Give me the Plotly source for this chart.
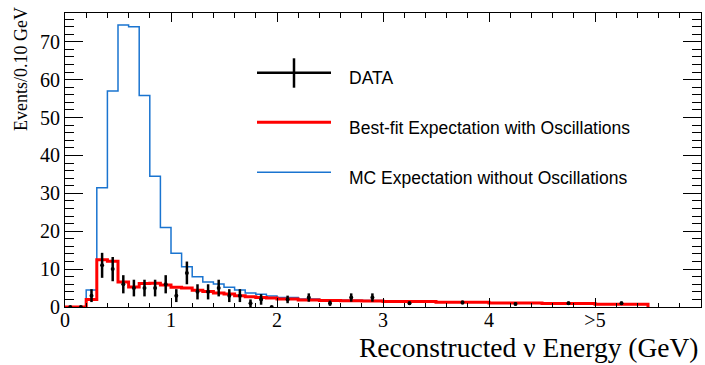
import plotly.graph_objects as go

# ---- data ----
bin_edges = [0.0, 0.1, 0.2, 0.3, 0.4, 0.5, 0.6, 0.7, 0.8, 0.9, 1.0,
             1.1, 1.2, 1.3, 1.4, 1.5, 1.6, 1.7, 1.8, 1.9, 2.0,
             2.2, 2.4, 2.6, 2.8, 3.0, 3.5, 4.0, 4.5, 5.0, 5.5]

mc_no_osc = [0, 0, 4.5, 31.5, 57.0, 74.4, 74.0, 55.8, 34.5, 21.0,
             14.2, 10.6, 8.0, 6.6, 6.1, 5.2, 4.5, 3.7, 3.35, 2.9,
             2.5, 2.1, 1.8, 1.75, 1.7, 1.5, 1.25, 1.05, 0.9, 0.75]

best_fit = [0, 0, 2.0, 12.5, 12.1, 6.6, 5.3, 6.2, 6.3, 5.8,
            5.2, 5.0, 4.4, 4.1, 3.7, 3.4, 3.0, 2.7, 2.5, 2.4,
            2.1, 1.85, 1.7, 1.65, 1.6, 1.45, 1.25, 1.05, 0.9, 0.7]

data_vals = [0, 0, 3, 11, 10, 6, 5, 5, 5, 6,
             3, 9, 4, 4, 5, 3, 3, 1, 2, 0,
             2, 2.5, 1, 2.5, 2.5, 1.0, 1.2, 0.8, 1.0, 1.0]

data_errs = [0, 0, 1.7, 3.3, 3.2, 2.4, 2.2, 2.2, 2.2, 2.4,
             1.7, 3.0, 2.0, 2.0, 2.2, 1.7, 1.7, 1.0, 1.4, 0,
             1.0, 1.1, 0.7, 1.1, 1.1, 0.45, 0.5, 0.4, 0.45, 0.45]

x_tickvals = [0, 1, 2, 3, 4, 5]
x_ticktext = ["0", "1", "2", "3", "4", ">5"]

legend_labels = ["DATA", "Best-fit Expectation with Oscillations",
                 "MC Expectation without Oscillations"]

BLUE = "#1a74d0"
RED = "#ff0000"
SERIF = "Liberation Serif, Times New Roman, serif"
SANS = "Liberation Sans, Arial, sans-serif"

centers = [(bin_edges[i] + bin_edges[i + 1]) / 2 for i in range(len(bin_edges) - 1)]

fig = go.Figure()
fig.add_trace(go.Scatter(x=bin_edges, y=mc_no_osc + [0], mode="lines",
                         line=dict(shape="hv", color=BLUE, width=1.5),
                         showlegend=False, hoverinfo="skip"))
fig.add_trace(go.Scatter(x=bin_edges, y=best_fit + [0], mode="lines",
                         line=dict(shape="hv", color=RED, width=3),
                         showlegend=False, hoverinfo="skip"))
fig.add_trace(go.Scatter(x=centers, y=data_vals, mode="markers",
                         marker=dict(color="black", size=4),
                         error_y=dict(type="data", array=data_errs, color="black",
                                      thickness=2.5, width=0),
                         showlegend=False))

# plot area geometry (pixels) for legend placement
L, T, W, H = 65, 13, 636, 294


def px(x):
    return (x - L) / W


def py(y):
    return (T + H - y) / H


shapes = [
    dict(type="line", xref="paper", yref="paper", x0=px(257), x1=px(331), y0=py(72.7), y1=py(72.7),
         line=dict(color="black", width=2.5)),
    dict(type="line", xref="paper", yref="paper", x0=px(294), x1=px(294), y0=py(58.3), y1=py(87.7),
         line=dict(color="black", width=2.5)),
    dict(type="line", xref="paper", yref="paper", x0=px(257), x1=px(331), y0=py(122.3), y1=py(122.3),
         line=dict(color=RED, width=3)),
    dict(type="line", xref="paper", yref="paper", x0=px(257), x1=px(331), y0=py(172.3), y1=py(172.3),
         line=dict(color=BLUE, width=1.5)),
]

annotations = []
for lab, yc in zip(legend_labels, [78.3, 128.3, 178.3]):
    annotations.append(dict(text=lab, xref="paper", yref="paper", x=px(347), y=py(yc),
                            xanchor="left", yanchor="middle", showarrow=False,
                            font=dict(family=SANS, size=17.5, color="black")))

annotations.append(dict(text="Reconstructed \u03bd Energy (GeV)", xref="paper", yref="paper",
                        x=px(701), y=py(347), xanchor="right", yanchor="middle",
                        showarrow=False, font=dict(family=SERIF, size=27.5, color="black")))
annotations.append(dict(text="Events/0.10 GeV", xref="paper", yref="paper",
                        x=px(21), y=py(5), xanchor="center", yanchor="top", textangle=-90,
                        showarrow=False, font=dict(family=SERIF, size=18, color="black")))

fig.update_layout(
    width=705, height=365,
    margin=dict(l=L, r=705 - L - W, t=T, b=365 - T - H),
    paper_bgcolor="white", plot_bgcolor="white",
    shapes=shapes, annotations=annotations,
    xaxis=dict(range=[0, 6], showline=True, linecolor="black", linewidth=1, mirror="ticks",
               ticks="inside", ticklen=9, tickwidth=1, tickcolor="black",
               tickmode="array", tickvals=x_tickvals, ticktext=x_ticktext,
               tickfont=dict(family=SERIF, size=20, color="black"), ticklabelstandoff=-5,
               minor=dict(ticks="inside", ticklen=4.5, tickmode="linear", tick0=0, dtick=0.2,
                          tickcolor="black", tickwidth=1),
               showgrid=False, zeroline=False),
    yaxis=dict(range=[0, 77.6], showline=True, linecolor="black", linewidth=1, mirror="ticks",
               ticks="inside", ticklen=18, tickwidth=1, tickcolor="black",
               tickmode="linear", tick0=0, dtick=10,
               tickfont=dict(family=SERIF, size=20, color="black"),
               minor=dict(ticks="inside", ticklen=9, tickmode="linear", tick0=0, dtick=2,
                          tickcolor="black", tickwidth=1),
               showgrid=False, zeroline=False),
)

fig.write_html("out.html")
